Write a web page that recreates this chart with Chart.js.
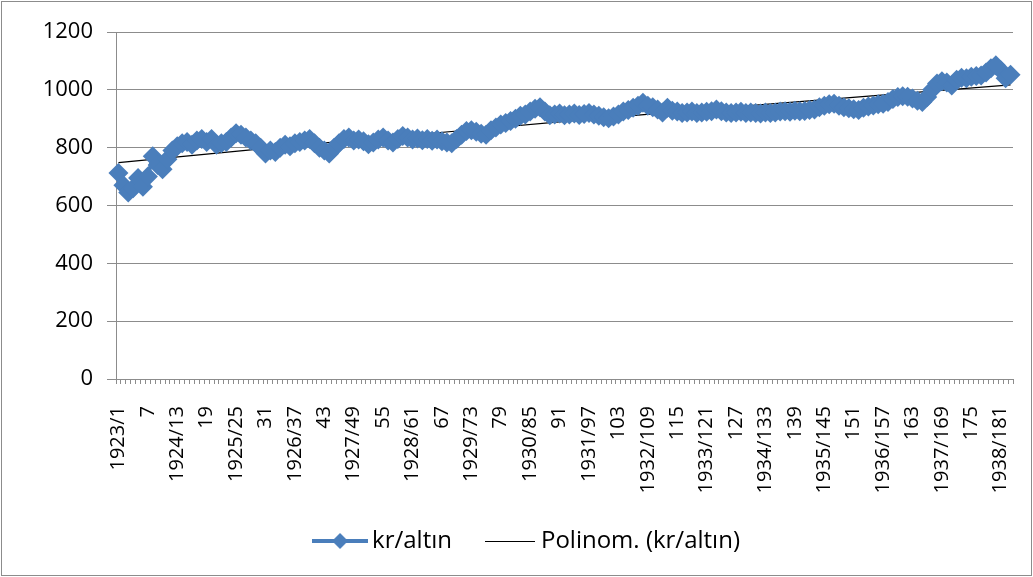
<!DOCTYPE html>
<html>
<head>
<meta charset="utf-8">
<script src="https://cdn.jsdelivr.net/npm/chart.js@4/dist/chart.umd.min.js"></script>
<style>
  body { margin: 0; background: #fff; }
  #wrap { position: absolute; left: 1px; top: 1px; width: 1029px; height: 573px; border: 1px solid #8c8c8c; }
</style>
</head>
<body>
<div id="wrap"><canvas id="chart"></canvas></div>
<script>
// kr/altın, monthly 1923/1 .. 1938/183
const goldValues = [
  712, 670, 645, 660, 695, 665, 700, 770, 740, 725,
  760, 790, 805, 815, 820, 810, 825, 830, 820, 830,
  810, 815, 820, 835, 850, 845, 835, 825, 815, 800,
  780, 790, 785, 800, 810, 805, 815, 820, 825, 830,
  815, 800, 790, 780, 800, 815, 830, 835, 825, 828,
  822, 812, 818, 828, 835, 825, 818, 830, 840, 835,
  828, 832, 826, 830, 824, 828, 822, 818, 815, 830,
  845, 858, 860, 855, 848, 845, 860, 870, 880, 885,
  892, 900, 910, 915, 925, 935, 940, 925, 912, 915,
  918, 912, 915, 918, 913, 916, 920, 915, 910, 905,
  902, 908, 915, 925, 930, 938, 945, 955, 945, 940,
  932, 922, 938, 928, 925, 920, 922, 925, 920, 922,
  924, 926, 932, 926, 922, 920, 922, 924, 920, 922,
  920, 918, 922, 920, 922, 925, 926, 924, 928, 926,
  927, 930, 932, 940, 945, 950, 952, 945, 940, 936,
  933, 930, 938, 942, 946, 950, 952, 958, 968, 975,
  978, 976, 970, 962, 958, 975, 1000, 1022, 1030, 1025,
  1015, 1035, 1042, 1040, 1045, 1048, 1050, 1060, 1075, 1085,
  1068, 1040, 1052
];
const startYear = 1923;
// trend line (Polinom.) read at a few points
const trendIndex = [0, 36, 72, 109, 146, 182];
const trendValues = [748, 807, 862, 917, 969, 1017];
const yTicks = [0, 200, 400, 600, 800, 1000, 1200];

const labels = goldValues.map((v, i) => (i % 12 === 0 ? (startYear + i / 12) + '/' + (i + 1) : String(i + 1)));
const trendData = goldValues.map(() => null);
trendIndex.forEach((idx, k) => { trendData[idx] = trendValues[k]; });

const BLUE = '#4A7EBB';
const FONT = '"Open Sans", Lato, sans-serif';

function legendIcon(kind) {
  const c = document.createElement('canvas');
  c.width = 56; c.height = 20;
  const g = c.getContext('2d');
  if (kind === 'blue') {
    g.strokeStyle = BLUE; g.lineWidth = 4;
    g.beginPath(); g.moveTo(0, 10); g.lineTo(56, 10); g.stroke();
    g.fillStyle = BLUE;
    g.beginPath(); g.moveTo(28, 2); g.lineTo(36, 10); g.lineTo(28, 18); g.lineTo(20, 10); g.closePath(); g.fill();
  } else {
    g.strokeStyle = '#000'; g.lineWidth = 1;
    g.beginPath(); g.moveTo(4, 10.5); g.lineTo(54, 10.5); g.stroke();
  }
  return c;
}

new Chart(document.getElementById('chart'), {
  type: 'line',
  data: {
    labels: labels,
    datasets: [{
      label: 'kr/altın',
      data: goldValues,
      borderColor: BLUE,
      backgroundColor: BLUE,
      borderWidth: 4,
      pointStyle: 'rectRot',
      pointRadius: 10,
      pointBorderWidth: 0,
      pointBackgroundColor: BLUE,
      tension: 0
    }, {
      label: 'Polinom. (kr/altın)',
      data: trendData,
      borderColor: '#000',
      borderWidth: 1.2,
      pointRadius: 0,
      spanGaps: true,
      tension: 0.4
    }]
  },
  options: {
    responsive: true,
    maintainAspectRatio: false,
    animation: false,
    layout: { padding: { left: 29, right: 2, top: 30, bottom: 12 } },
    plugins: {
      tooltip: { enabled: false },
      legend: {
        position: 'bottom',
        labels: {
          usePointStyle: true,
          pointStyleWidth: 40,
          padding: 37,
          color: '#000',
          font: { family: FONT, size: 24 },
          generateLabels: (chart) => chart.data.datasets.map((ds, i) => ({
            text: ds.label,
            pointStyle: legendIcon(i === 0 ? 'blue' : 'black'),
            fontColor: '#000',
            hidden: false,
            datasetIndex: i,
            lineWidth: 0
          }))
        }
      }
    },
    scales: {
      x: {
        offset: true,
        grid: { drawOnChartArea: false, offset: true, color: '#8c8c8c', tickLength: 5 },
        border: { color: '#8c8c8c' },
        ticks: {
          autoSkip: false,
          maxRotation: 90,
          minRotation: 90,
          padding: 22,
          color: '#000',
          font: { family: FONT, size: 20 },
          callback: function (val, idx) { return idx % 6 === 0 ? labels[idx] : ''; }
        },
        afterFit: (scale) => { scale.height = 113; scale.paddingRight = 18; scale.paddingLeft = 0; }
      },
      y: {
        min: 0,
        max: 1200,
        afterBuildTicks: (scale) => { scale.ticks = yTicks.map(v => ({ value: v })); },
        grid: { color: '#8c8c8c', tickLength: 9 },
        border: { color: '#8c8c8c' },
        ticks: {
          padding: 14,
          color: '#000',
          font: { family: FONT, size: 22 },
          callback: (v) => String(v)
        },
        afterFit: (scale) => { scale.width = 85; }
      }
    }
  }
});
</script>
</body>
</html>
